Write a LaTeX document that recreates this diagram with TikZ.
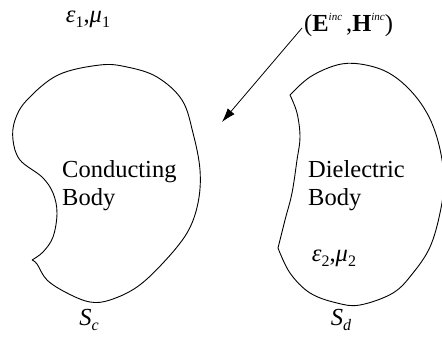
\documentclass[tikz,border=0pt]{standalone}
\usepackage{fontspec}
\setmainfont{Liberation Serif}
\usetikzlibrary{arrows.meta}
\newcommand{\mysub}[1]{\raisebox{-0.45ex}{\fontsize{16}{16}\selectfont #1}}
\newcommand{\mysup}[1]{\raisebox{0.9ex}{\fontsize{11}{11}\selectfont\itshape #1}}
\begin{document}
\begin{tikzpicture}[x=1pt,y=-1pt,
  outline/.style={line width=0.9pt, black},
  lbl/.style={inner sep=0pt, font=\fontsize{24.5}{28}\selectfont},
  incarrow/.style={line width=0.8pt, -{Latex[length=14pt,width=9pt]}}]
\useasboundingbox (0,0) rectangle (442,339);
\clip (0,0) rectangle (442,339);
% conducting body
\draw[outline] plot[smooth, tension=0.6] coordinates {
 (32,260) (37,264) (47,280) (67,293) (90,302) (110,300) (137,287) (163,263)
 (187,233) (198,203) (200,170) (193,133) (182,100) (157,77) (127,67) (100,65)
 (58,75) (27,100) (15,120) (13,140) (20,160) (42,177) (53,193) (57,213)
 (53,237) (43,252) (32,260)};
% dielectric body
\draw[outline] plot[smooth, tension=0.6] coordinates {
 (290,95) (310,77) (337,65) (360,64) (387,72) (410,90) (428,115) (439,145)
 (444,180) (440,213) (430,247) (413,273) (393,293) (360,305) (337,303)
 (310,293) (290,273) (278,248)}
 -- plot[smooth, tension=0.6] coordinates {
 (278,248) (285,220) (292,193) (297,160) (300,137) (297,113) (290,95)};
% labels
\node[lbl, anchor=base west] (cond1) at (62,178) {Conducting};
\node[lbl, anchor=base west] (cond2) at (62,206) {Body};
\node[lbl, anchor=base west] (diel1) at (308,178) {Dielectric};
\node[lbl, anchor=base west] (diel2) at (308,206) {Body};
\node[lbl] (eps1) at (88,19) {\textit{ε}\mysub{1},\textit{μ}\mysub{1}};
\node[lbl] (eps2) at (334,258) {\textit{ε}\mysub{2},\textit{μ}\mysub{2}};
\node[lbl] (sc) at (89,320) {\textit{S}\mysub{\textit{c}}};
\node[lbl] (sd) at (341,320) {\textit{S}\mysub{\textit{d}}};
\node[lbl, anchor=west] (inc) at (304,25) {(\textbf{E}\mysup{inc}\,,\textbf{H}\mysup{inc})};
% incident field arrow
\coordinate (astart) at (302,28);
\coordinate (aend) at (222,122);
\draw[incarrow] (astart) -- (aend);
\end{tikzpicture}
\end{document}
